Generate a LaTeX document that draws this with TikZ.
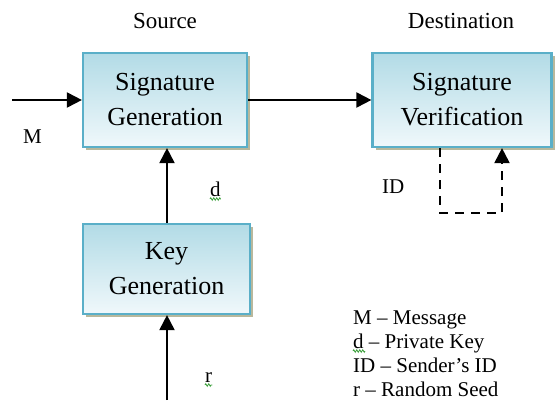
\documentclass[tikz,border=0pt]{standalone}
\usepackage{fontspec}
\setmainfont{Liberation Serif}
\usetikzlibrary{arrows.meta,shadows,decorations.pathmorphing}

\definecolor{boxedge}{HTML}{5AAFC8}
\definecolor{boxtop}{HTML}{B2DBE6}
\definecolor{boxbottom}{HTML}{F0F8FB}
\definecolor{shade}{HTML}{B8B89C}
\definecolor{inkgreen}{HTML}{3CA03C}

\tikzset{
  block/.style={draw=boxedge, line width=2.2pt, top color=boxtop, bottom color=boxbottom,
    align=center, font=\fontsize{26}{35}\selectfont, inner sep=0pt,
    drop shadow={shadow xshift=3pt, shadow yshift=-3pt, fill=shade, opacity=1}},
  flow/.style={line width=2pt, -{Triangle[length=15pt,width=15pt]}},
  idflow/.style={flow, dash pattern=on 9pt off 7pt},
  heading/.style={font=\fontsize{23}{28}\selectfont, anchor=base},
  sym/.style={font=\fontsize{21}{24}\selectfont, anchor=base west, inner sep=0pt},
  squiggle/.style={draw=inkgreen, line width=0.8pt,
    decorate, decoration={zigzag, amplitude=1.3pt, segment length=3pt}}
}

\begin{document}
\begin{tikzpicture}[x=1pt, y=1pt]
  \useasboundingbox (0,0) rectangle (557,400);

  % headings
  \node[heading] (src) at (165,371) {Source};
  \node[heading] (dst) at (461,371) {Destination};

  % processing blocks
  \node[block, minimum width=164pt, minimum height=94pt] (gen) at (165,300) {Signature\\Generation};
  \node[block, minimum width=179pt, minimum height=94pt] (ver) at (462,300) {Signature\\Verification};
  \node[block, minimum width=167pt, minimum height=90pt] (key) at (166.5,131) {Key\\Generation};

  % message into the generator, signature to the verifier
  \coordinate (min) at (12,300);
  \draw[flow] (min) -- (gen.west);
  \draw[flow] (gen.east) -- (ver.west);

  % private key and random seed
  \draw[flow] (key.north -| 167,0) -- (gen.south -| 167,0);
  \coordinate (rin) at (167,0);
  \draw[flow] (rin) -- (key.south -| rin);

  % sender's identity loop
  \coordinate (idl) at ([xshift=-22pt]ver.south);
  \coordinate (idr) at ([xshift=40pt]ver.south);
  \draw[idflow] (idl) -- ++(0,-65) -| (idr);

  % signal labels
  \node[sym] (lm) at (23,257) {M};
  \node[sym] (ld) at (210,204) {d};
  \node[sym] (lid) at (382,207) {ID};
  \node[sym] (lr) at (205,18) {r};
  \draw[squiggle] ([yshift=-3pt]ld.base west) -- ([yshift=-3pt]ld.base east);
  \draw[squiggle] ([yshift=-3pt]lr.base west) -- ([yshift=-3pt]lr.base east);

  % legend
  \node[sym] (k1) at (353,76) {M – Message};
  \node[sym] (k2) at (353,52) {d – Private Key};
  \node[sym] (k3) at (353,28) {ID – Sender’s ID};
  \node[sym] (k4) at (353,4) {r – Random Seed};
  \draw[squiggle] ([yshift=-3pt]k2.base west) -- ++(12,0);
\end{tikzpicture}
\end{document}
